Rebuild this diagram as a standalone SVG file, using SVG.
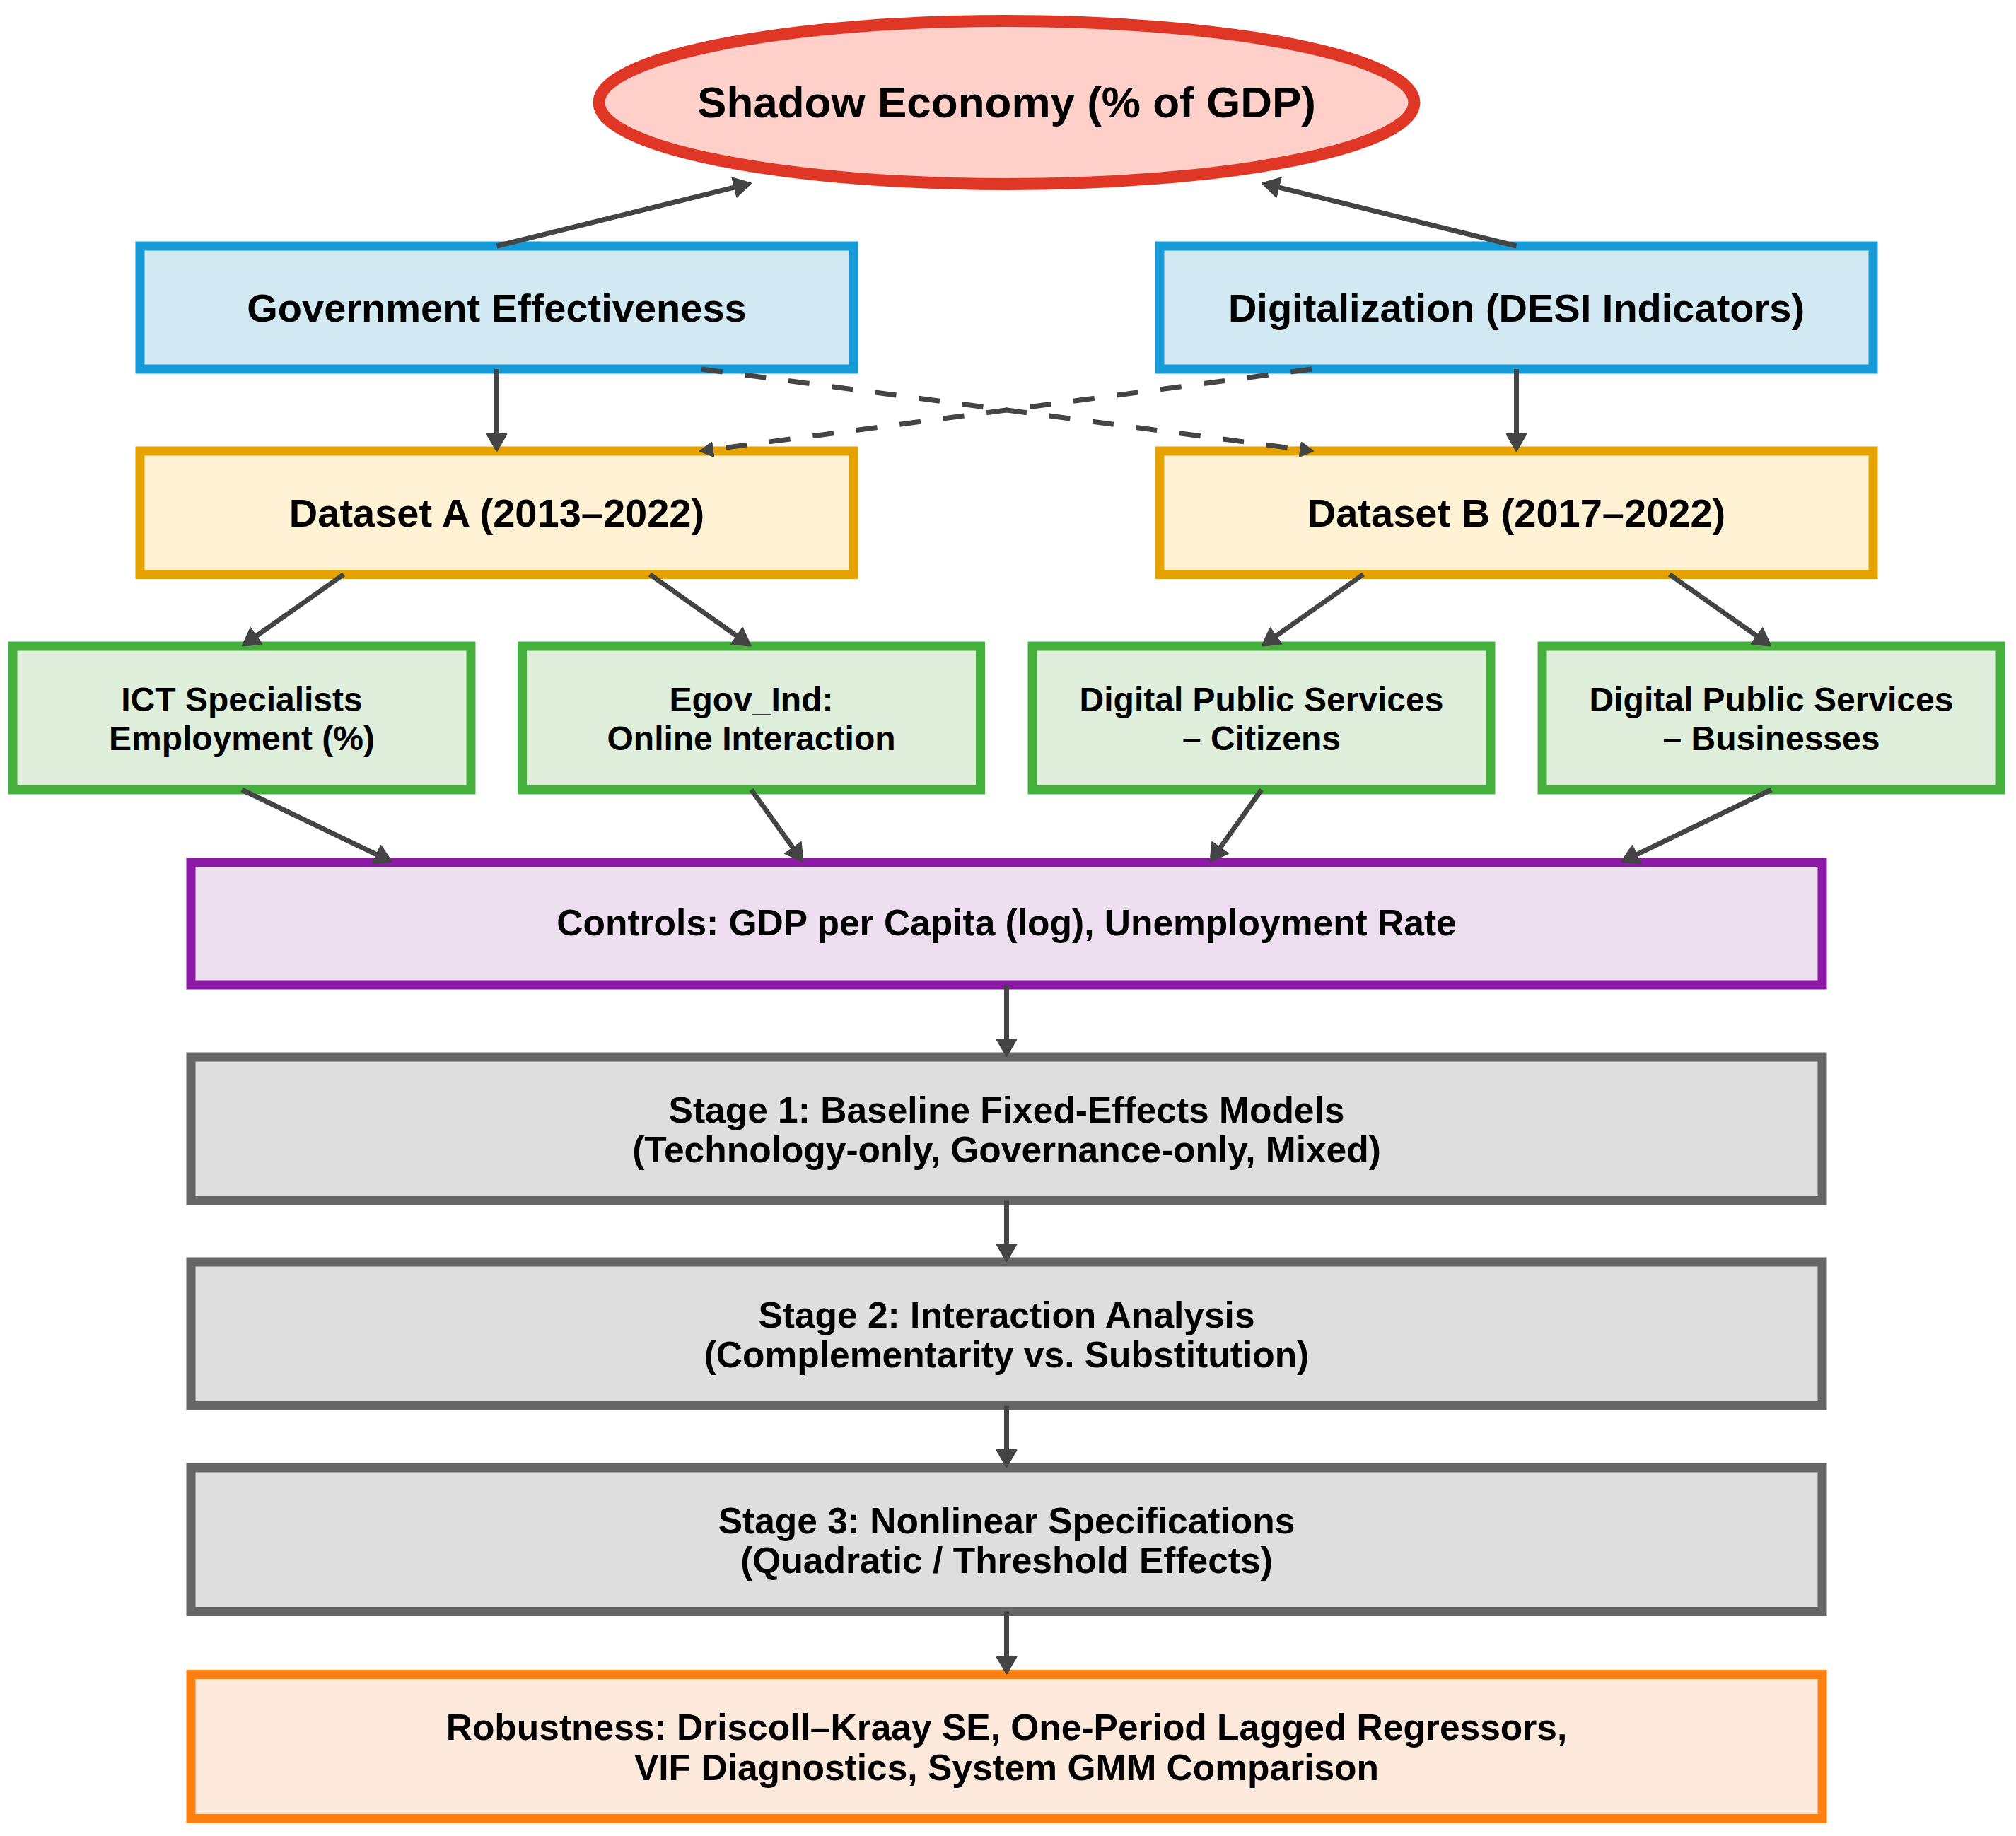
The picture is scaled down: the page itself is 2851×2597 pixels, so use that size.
<svg xmlns="http://www.w3.org/2000/svg" width="2851" height="2597" viewBox="0 0 2851 2597">
<style>
.t{font-family:"Liberation Sans",Arial,Helvetica,sans-serif;font-weight:bold;fill:#000;text-anchor:middle}
.f62{font-size:62px}.f56{font-size:56px}.f52{font-size:51.5px}.f48{font-size:48px}
.blue{fill:#d2e8f3;stroke:#169bd8;stroke-width:13}
.ora{fill:#fff1d4;stroke:#e6a200;stroke-width:13}
.grn{fill:#e0efdc;stroke:#46b03c;stroke-width:13}
.pur{fill:#eedff0;stroke:#8c1aa6;stroke-width:13}
.gry{fill:#dedede;stroke:#666666;stroke-width:13}
.rob{fill:#fde9dc;stroke:#fb7f12;stroke-width:13}
.e{fill:none;stroke:#444444;stroke-width:7}
.d{stroke-dasharray:30 32}
</style>
<defs>
<marker id="ah" markerUnits="userSpaceOnUse" viewBox="0 0 26 30" markerWidth="26" markerHeight="30" refX="14" refY="15" orient="auto">
<path d="M1,1 L25,15 L1,29 Z" fill="#444444" stroke="#444444" stroke-width="2" stroke-linejoin="round"/>
</marker>
<marker id="ahs" markerUnits="userSpaceOnUse" viewBox="0 0 20 22" markerWidth="20" markerHeight="22" refX="9" refY="11" orient="auto">
<path d="M1,1 L19,11 L1,21 Z" fill="#444444" stroke="#444444" stroke-width="2" stroke-linejoin="round"/>
</marker>
</defs>
<rect width="2851" height="2597" fill="#ffffff"/>

<g id="shadow">
<ellipse cx="1423.5" cy="145" rx="576.5" ry="115.5" fill="#ffd0c9" stroke="#df3626" stroke-width="17"/>
<text class="t f62" x="1423.5" y="166">Shadow Economy (% of GDP)</text>
</g>
<g id="gov">
<rect class="blue" x="198" y="348" width="1009" height="174"/>
<text class="t f56" x="702.5" y="455">Government Effectiveness</text>
</g>
<g id="dig">
<rect class="blue" x="1640" y="348" width="1009" height="174"/>
<text class="t f56" x="2144.5" y="455">Digitalization (DESI Indicators)</text>
</g>
<g id="dsA">
<rect class="ora" x="198" y="638" width="1009" height="174.5"/>
<text class="t f56" x="702.5" y="745">Dataset A (2013–2022)</text>
</g>
<g id="dsB">
<rect class="ora" x="1640" y="638" width="1009" height="174.5"/>
<text class="t f56" x="2144.5" y="745">Dataset B (2017–2022)</text>
</g>
<g id="ict">
<rect class="grn" x="18" y="914" width="648" height="203"/>
<text class="t f48" x="342" y="1006">ICT Specialists</text>
<text class="t f48" x="342" y="1060.5">Employment (%)</text>
</g>
<g id="egov">
<rect class="grn" x="738.5" y="914" width="648" height="203"/>
<text class="t f48" x="1062.5" y="1006">Egov_Ind:</text>
<text class="t f48" x="1062.5" y="1060.5">Online Interaction</text>
</g>
<g id="dpsc">
<rect class="grn" x="1460" y="914" width="648" height="203"/>
<text class="t f48" x="1784" y="1006">Digital Public Services</text>
<text class="t f48" x="1784" y="1060.5">– Citizens</text>
</g>
<g id="dpsb">
<rect class="grn" x="2181" y="914" width="648" height="203"/>
<text class="t f48" x="2505" y="1006">Digital Public Services</text>
<text class="t f48" x="2505" y="1060.5">– Businesses</text>
</g>
<g id="controls">
<rect class="pur" x="270" y="1219.5" width="2307" height="173.5"/>
<text class="t f52" x="1423.5" y="1323">Controls: GDP per Capita (log), Unemployment Rate</text>
</g>
<g id="stage1">
<rect class="gry" x="270" y="1495" width="2307" height="203.5"/>
<text class="t f52" x="1423.5" y="1587.5">Stage 1: Baseline Fixed-Effects Models</text>
<text class="t f52" x="1423.5" y="1643.75">(Technology-only, Governance-only, Mixed)</text>
</g>
<g id="stage2">
<rect class="gry" x="270" y="1785" width="2307" height="203.5"/>
<text class="t f52" x="1423.5" y="1877.5">Stage 2: Interaction Analysis</text>
<text class="t f52" x="1423.5" y="1933.75">(Complementarity vs. Substitution)</text>
</g>
<g id="stage3">
<rect class="gry" x="270" y="2076" width="2307" height="203.5"/>
<text class="t f52" x="1423.5" y="2168.5">Stage 3: Nonlinear Specifications</text>
<text class="t f52" x="1423.5" y="2224.75">(Quadratic / Threshold Effects)</text>
</g>
<g id="robust">
<rect class="rob" x="270" y="2368.5" width="2307" height="204"/>
<text class="t f52" x="1423.5" y="2461">Robustness: Driscoll–Kraay SE, One-Period Lagged Regressors,</text>
<text class="t f52" x="1423.5" y="2517.5">VIF Diagnostics, System GMM Comparison</text>
</g>

<g id="connectors">
<line class="e" x1="702.5" y1="348" x2="1051.3" y2="261.9" marker-end="url(#ah)"/>
<line class="e" x1="2144.5" y1="348" x2="1795.7" y2="261.9" marker-end="url(#ah)"/>
<line class="e" x1="702.5" y1="522" x2="702.5" y2="627" marker-end="url(#ah)"/>
<line class="e" x1="2144.5" y1="522" x2="2144.5" y2="627" marker-end="url(#ah)"/>
<line class="e d" x1="992" y1="522" x2="1847.1" y2="636.7" marker-end="url(#ahs)"/>
<line class="e d" x1="1855" y1="522" x2="999.9" y2="636.7" marker-end="url(#ahs)"/>
<line class="e" x1="486" y1="812.5" x2="351.8" y2="907.1" marker-end="url(#ah)"/>
<line class="e" x1="919" y1="812.5" x2="1052.7" y2="907.1" marker-end="url(#ah)"/>
<line class="e" x1="1928" y1="812.5" x2="1793.8" y2="907.1" marker-end="url(#ah)"/>
<line class="e" x1="2361" y1="812.5" x2="2495.2" y2="907.1" marker-end="url(#ah)"/>
<line class="e" x1="342" y1="1117" x2="544.2" y2="1214.3" marker-end="url(#ah)"/>
<line class="e" x1="1062.5" y1="1117" x2="1129" y2="1209.7" marker-end="url(#ah)"/>
<line class="e" x1="1784" y1="1117" x2="1718" y2="1209.7" marker-end="url(#ah)"/>
<line class="e" x1="2505" y1="1117" x2="2302.8" y2="1214.3" marker-end="url(#ah)"/>
<line class="e" x1="1423.5" y1="1393" x2="1423.5" y2="1483" marker-end="url(#ah)"/>
<line class="e" x1="1423.5" y1="1698.5" x2="1423.5" y2="1773" marker-end="url(#ah)"/>
<line class="e" x1="1423.5" y1="1988.5" x2="1423.5" y2="2064" marker-end="url(#ah)"/>
<line class="e" x1="1423.5" y1="2279.5" x2="1423.5" y2="2356.5" marker-end="url(#ah)"/>
</g>
</svg>
